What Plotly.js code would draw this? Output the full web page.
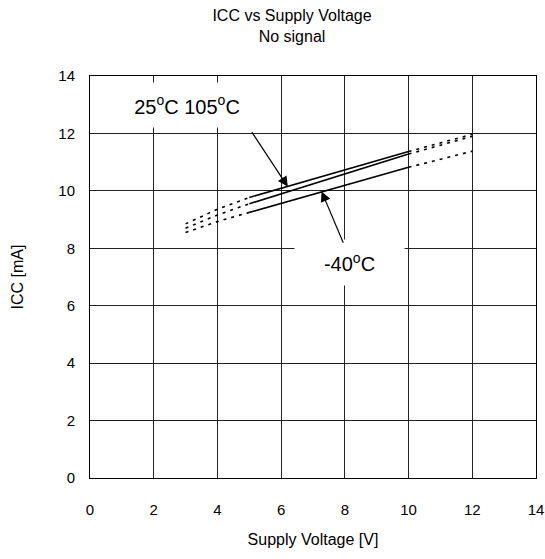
<!DOCTYPE html>
<html>
<head>
<meta charset="utf-8">
<script src="https://cdn.plot.ly/plotly-3.0.1.min.js"></script>
<style>html,body{margin:0;padding:0;background:#fff}#chart{width:545px;height:559px}</style>
</head>
<body>
<div id="chart"></div>
<script>
// Supply voltage (V) for measured (solid) and extrapolated (dotted) segments
const vSolid = [5, 10];
const vLow = [3, 4, 5];
const vHigh = [10, 11, 12];

// ICC (mA) per temperature
const icc25Solid = [9.77, 11.37];
const icc25Low = [8.85, 9.36, 9.77];
const icc25High = [11.37, 11.68, 11.97];

const icc105Solid = [9.55, 11.28];
const icc105Low = [8.70, 9.16, 9.55];
const icc105High = [11.28, 11.60, 11.90];

const iccM40Solid = [9.25, 10.82];
const iccM40Low = [8.55, 8.93, 9.25];
const iccM40High = [10.82, 11.10, 11.38];

const xTicks = [0, 2, 4, 6, 8, 10, 12, 14];
const yTicks = [0, 2, 4, 6, 8, 10, 12, 14];

const FONT = 'Liberation Sans, Arial, sans-serif';
const solid = {color: '#000', width: 1.6};
const dotted = {color: '#000', width: 1.6, dash: '3px,5px'};

function tr(x, y, line, name) {
  return {x: x, y: y, mode: 'lines', line: line, name: name, showlegend: false, hoverinfo: 'x+y'};
}

const data = [
  tr(vSolid, icc25Solid, solid, '25°C'),
  tr(vLow, icc25Low, dotted, '25°C'),
  tr(vHigh, icc25High, dotted, '25°C'),
  tr(vSolid, icc105Solid, solid, '105°C'),
  tr(vLow, icc105Low, dotted, '105°C'),
  tr(vHigh, icc105High, dotted, '105°C'),
  tr(vSolid, iccM40Solid, solid, '-40°C'),
  tr(vLow, iccM40Low, dotted, '-40°C'),
  tr(vHigh, iccM40High, dotted, '-40°C')
];

const layout = {
  width: 545, height: 559,
  margin: {l: 90, r: 9, t: 76, b: 81},
  paper_bgcolor: '#fff', plot_bgcolor: '#fff',
  font: {family: FONT, color: '#000', size: 15},
  title: {
    text: 'ICC vs Supply Voltage<br>No signal',
    font: {family: FONT, size: 16, color: '#000'},
    xref: 'container', x: 292 / 545, xanchor: 'center',
    yref: 'container', y: 1 - 21 / 559, yanchor: 'top'
  },
  xaxis: {
    range: [0, 14], tickvals: xTicks, ticktext: xTicks.map(String),
    showgrid: true, gridcolor: '#222', gridwidth: 1,
    showline: true, linecolor: '#000', linewidth: 1, mirror: true,
    zeroline: false, ticks: '', ticklabelstandoff: 18,
    tickfont: {size: 15},
    title: {text: 'Supply Voltage [V]', font: {size: 16}, standoff: 16}
  },
  yaxis: {
    range: [0, 14], tickvals: yTicks, ticktext: yTicks.map(String),
    showgrid: true, gridcolor: '#222', gridwidth: 1,
    showline: true, linecolor: '#000', linewidth: 1, mirror: true,
    zeroline: false, ticks: '', ticklabelstandoff: 11,
    tickfont: {size: 15},
    title: {text: 'ICC [mA]', font: {size: 16}, standoff: 30}
  },
  annotations: [
    {
      x: 3.04, y: 13.0, xref: 'x', yref: 'y', showarrow: false,
      text: '25<sup>o</sup>C 105<sup>o</sup>C', font: {family: FONT, size: 20, color: '#000'},
      bgcolor: '#fff', width: 134, height: 40, borderpad: 2, xanchor: 'center', yanchor: 'middle'
    },
    {
      x: 8.13, y: 7.52, xref: 'x', yref: 'y', showarrow: false,
      text: '-40<sup>o</sup>C', font: {family: FONT, size: 20, color: '#000'},
      bgcolor: '#fff', width: 105, height: 41, borderpad: 2, xanchor: 'center', yanchor: 'middle'
    },
    {
      x: 6.21, y: 10.14, xref: 'x', yref: 'y', ax: 5.05, ay: 12.1, axref: 'x', ayref: 'y',
      text: '', showarrow: true, arrowhead: 2, arrowsize: 1.7, arrowwidth: 1.2, arrowcolor: '#000', standoff: 0
    },
    {
      x: 7.27, y: 9.98, xref: 'x', yref: 'y', ax: 7.97, ay: 8.14, axref: 'x', ayref: 'y',
      text: '', showarrow: true, arrowhead: 2, arrowsize: 1.7, arrowwidth: 1.2, arrowcolor: '#000', standoff: 0
    }
  ]
};

Plotly.newPlot('chart', data, layout, {displayModeBar: false, responsive: false});
</script>
</body>
</html>
